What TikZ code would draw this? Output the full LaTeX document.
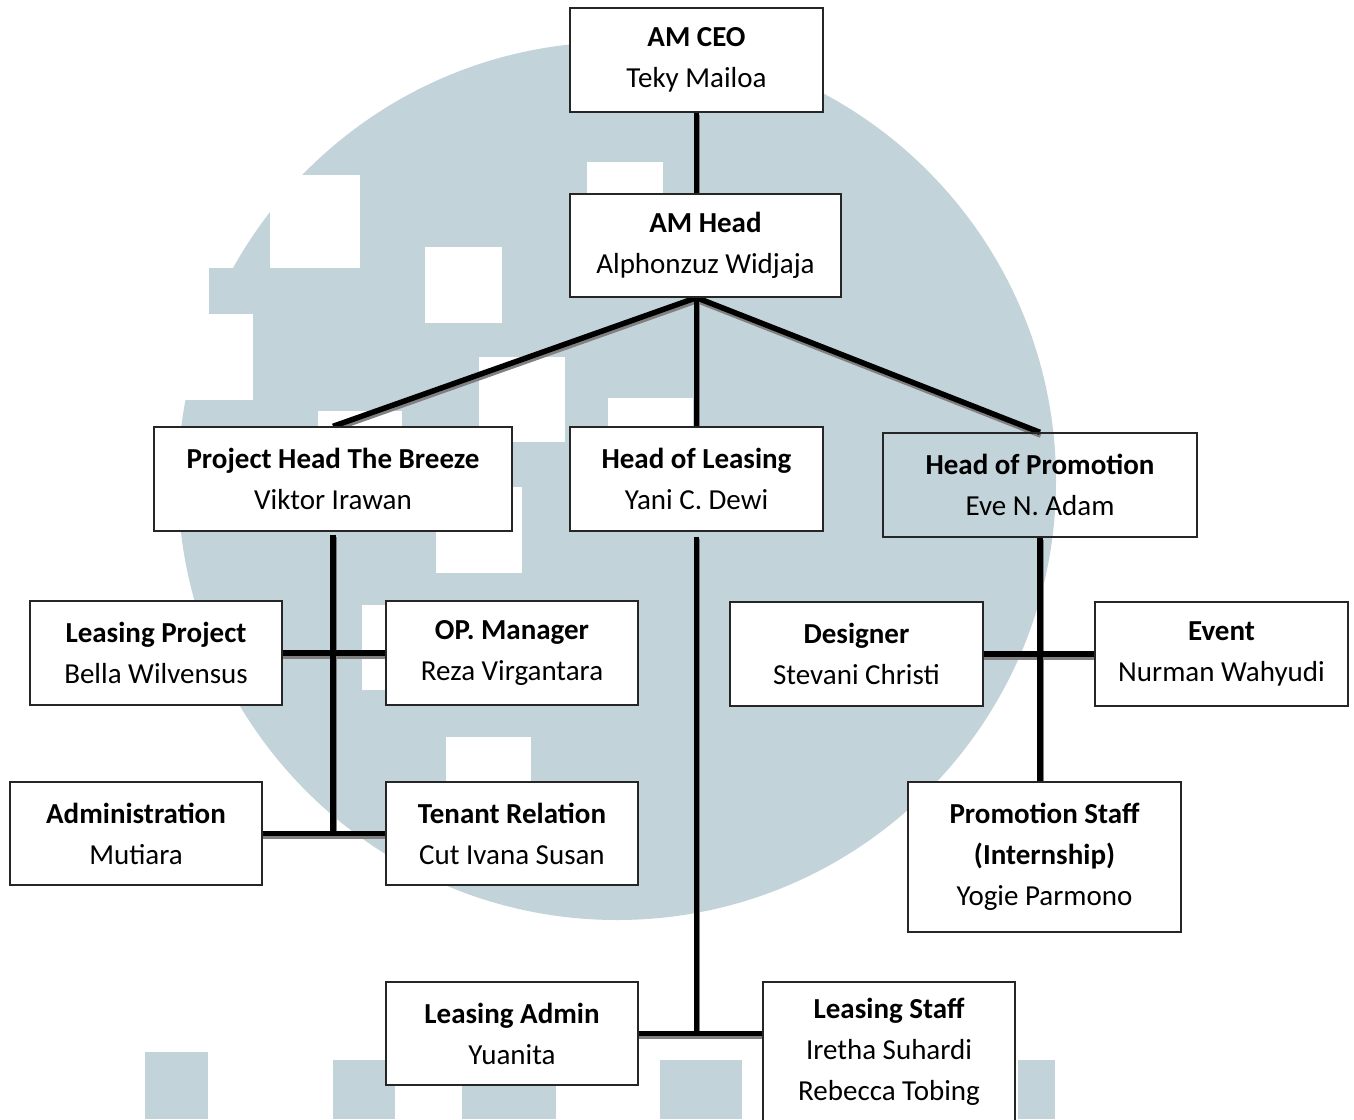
\documentclass[tikz,border=0pt]{standalone}
\usepackage{fontspec}
\setmainfont{Carlito}
\usetikzlibrary{backgrounds}
\definecolor{wmcol}{RGB}{194,211,218}
\tikzset{
  box/.style={draw=black!85, line width=1.3pt, fill=white, align=center, inner sep=0pt,
    font=\fontsize{29}{41}\selectfont},
  clearbox/.style={box, fill=none},
  conline/.style={line width=5.5pt, draw=black},
  shadowline/.style={line width=5.5pt, draw=black!50, transform canvas={xshift=0.8pt,yshift=-2.8pt}},
  wm/.style={fill=wmcol}
}
\newcommand{\orgconns}[1]{%
  \draw[#1] (ceo.south) -- (ceo.south |- head.north);
  \draw[#1] (hb) -- (phb.north);
  \draw[#1] (hb) -- (hol.north);
  \draw[#1] (hb) -- (hom.north);
  \draw[#1, shorten <=3pt] (phb.south) -- (phb.south |- adm.east);
  \draw[#1] (lp.east) -- (op.west);
  \draw[#1] (adm.east) -- (tr.west);
  \draw[#1, shorten <=5pt] (hol.south) -- (hol.south |- la.east);
  \draw[#1] (la.east) -- (la.east -| ls.west);
  \draw[#1] (hom.south) -- (hom.south |- ps.north);
  \draw[#1] (des.east) -- (ev.west);
}
\begin{document}
\begin{tikzpicture}[x=1pt,y=-1pt]
\useasboundingbox (0,0) rectangle (1354,1119);

% boxes
\node[box, minimum width=253pt, minimum height=104pt] (ceo) at (696.5,60) {\textbf{AM CEO}\\Teky Mailoa};
\node[box, minimum width=271pt, minimum height=103pt] (head) at (705.5,245.5) {\textbf{AM Head}\\Alphonzuz Widjaja};
\node[box, minimum width=358pt, minimum height=104pt] (phb) at (333,479) {\textbf{Project Head The Breeze}\\Viktor Irawan};
\node[box, minimum width=253pt, minimum height=104pt] (hol) at (696.5,479) {\textbf{Head of Leasing}\\Yani C. Dewi};
\node[clearbox, minimum width=314pt, minimum height=104pt] (hom) at (1040,485) {\textbf{Head of Promotion}\\Eve N. Adam};
\node[box, minimum width=252pt, minimum height=104pt] (lp) at (156,653) {\textbf{Leasing Project}\\Bella Wilvensus};
\node[box, minimum width=252pt, minimum height=104pt] (op) at (512,653) {\textbf{OP. Manager}\\Reza Virgantara};
\node[box, minimum width=253pt, minimum height=104pt] (des) at (856.5,654) {\textbf{Designer}\\Stevani Christi};
\node[box, minimum width=253pt, minimum height=104pt] (ev) at (1221.5,654) {\textbf{Event}\\Nurman Wahyudi};
\node[box, minimum width=252pt, minimum height=103pt] (adm) at (136,833.5) {\textbf{Administration}\\Mutiara};
\node[box, minimum width=252pt, minimum height=103pt] (tr) at (512,833.5) {\textbf{Tenant Relation}\\Cut Ivana Susan};
\node[box, minimum width=273pt, minimum height=150pt] (ps) at (1044.5,857) {\textbf{Promotion Staff}\\\textbf{(Internship)}\\Yogie Parmono};
\node[box, minimum width=252pt, minimum height=103pt] (la) at (512,1033.5) {\textbf{Leasing Admin}\\Yuanita};
\node[box, minimum width=252pt, minimum height=140pt] (ls) at (889,1052) {\textbf{Leasing Staff}\\Iretha Suhardi\\Rebecca Tobing};
\coordinate (hb) at (ceo.south |- head.south);

\begin{pgfonlayer}{background}
  \fill[white] (0,0) rectangle (1354,1119);
  % watermark
  \fill[wm] (617,481) circle[radius=439pt];
  \fill[white] (425,247) rectangle (502,323);
  \fill[white] (479,357) rectangle (565,442);
  \fill[white] (587,162) rectangle (663,238);
  \fill[white] (608,398) rectangle (693,475);
  \fill[white] (436,487) rectangle (522,573);
  \fill[white] (318,411) rectangle (402,495);
  \fill[white] (446,737) rectangle (531,820);
  \fill[white] (362,605) rectangle (447,690);
  \fill[white] (270,175) rectangle (360,268);
  \fill[white] (170,314) rectangle (253,400);
  \fill[wm] (209,268) rectangle (253,314);
  \fill[wm] (145,1052) rectangle (208,1119);
  \fill[wm] (333,1060) rectangle (395,1119);
  \fill[wm] (462,1070) rectangle (556,1119);
  \fill[wm] (660,1060) rectangle (742,1119);
  \fill[wm] (1018,1060) rectangle (1055,1119);
  % connectors
  \orgconns{shadowline}
  \orgconns{conline}
\end{pgfonlayer}
\end{tikzpicture}
\end{document}
